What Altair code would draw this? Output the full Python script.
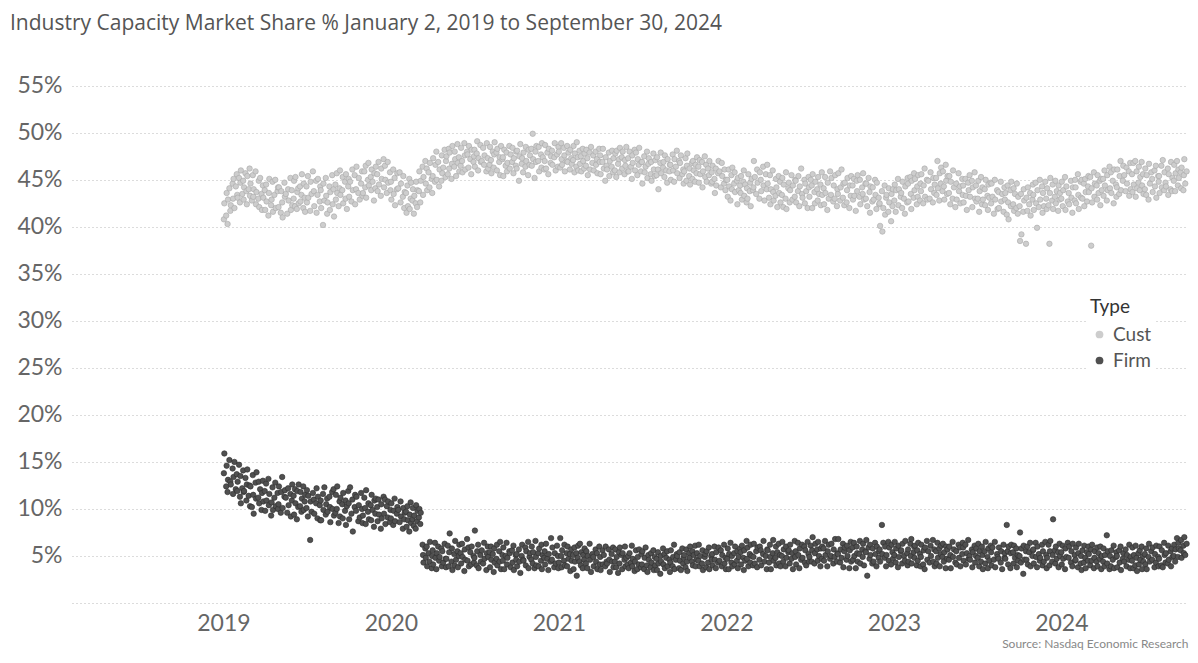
import altair as alt
import numpy as np
import pandas as pd

TITLE = "Industry Capacity Market Share % January 2, 2019 to September 30, 2024"
SOURCE = "Source: Nasdaq Economic Research"
TYPES = ["Cust", "Firm"]
YEAR_TICKS = [2019, 2020, 2021, 2022, 2023, 2024]
Y_TICKS = [0, 5, 10, 15, 20, 25, 30, 35, 40, 45, 50, 55]

# market share (%), 16 readings per month (one row per month)
CUST_2019 = [
    [40.8, 42.5, 41.2, 43.6, 40.3, 42.9, 44.1, 41.7, 42.3, 44.6, 43.0, 45.1, 42.0, 44.3, 45.6, 43.4],
    [43.1, 45.2, 42.6, 44.7, 46.0, 43.5, 44.9, 42.9, 44.2, 45.7, 43.8, 42.4, 45.4, 44.0, 46.2, 43.3],
    [44.6, 42.8, 45.5, 43.2, 44.0, 45.9, 42.4, 43.7, 43.0, 44.9, 42.1, 45.2, 43.5, 41.8, 44.4, 43.1],
    [43.9, 41.8, 44.5, 42.7, 41.2, 43.6, 45.1, 42.3, 42.9, 44.8, 41.6, 43.4, 45.0, 42.0, 43.8, 44.2],
    [42.1, 44.2, 41.5, 43.8, 42.6, 41.0, 44.7, 43.2, 43.5, 41.4, 44.0, 42.8, 45.2, 41.8, 43.9, 42.3],
    [43.0, 44.9, 42.2, 45.3, 41.9, 43.7, 44.1, 42.5, 44.3, 42.7, 43.4, 45.6, 42.0, 44.6, 43.1, 41.6],
    [44.3, 42.6, 45.4, 43.1, 41.7, 44.8, 43.5, 45.9, 43.8, 42.2, 44.9, 41.5, 43.4, 45.1, 42.7, 44.3],
    [43.9, 42.0, 40.2, 44.6, 42.8, 45.2, 43.3, 41.4, 42.6, 44.3, 41.8, 43.7, 45.5, 42.4, 44.0, 41.1],
    [44.5, 42.9, 45.7, 43.6, 42.2, 44.1, 46.0, 43.4, 43.9, 45.3, 42.5, 44.8, 43.0, 45.6, 41.9, 44.3],
    [45.1, 43.2, 44.8, 42.7, 46.1, 43.9, 45.5, 42.4, 44.0, 46.4, 43.6, 45.2, 42.9, 44.6, 45.9, 43.3],
    [43.6, 45.9, 44.2, 46.5, 43.1, 45.0, 46.8, 44.4, 45.3, 43.9, 46.1, 44.8, 42.8, 45.7, 44.1, 46.4],
    [45.6, 43.8, 46.9, 44.5, 43.3, 46.2, 45.1, 47.2, 44.2, 46.5, 45.0, 43.6, 46.9, 44.7, 45.8, 43.9],
]
CUST_2020 = [
    [44.8, 42.9, 46.1, 43.5, 45.2, 42.3, 44.0, 45.7, 44.1, 45.8, 42.6, 44.6, 43.2, 45.4, 42.0, 43.7],
    [43.6, 41.5, 44.4, 42.2, 45.1, 41.9, 43.0, 44.7, 42.8, 44.0, 41.4, 43.3, 42.5, 44.8, 42.1, 43.9],
    [43.8, 45.9, 42.6, 44.9, 46.4, 43.4, 45.3, 47.0, 44.6, 46.2, 43.9, 45.8, 44.2, 46.8, 45.1, 43.6],
    [45.4, 47.3, 44.8, 46.6, 48.0, 45.0, 46.9, 44.3, 46.1, 44.9, 47.6, 45.7, 46.3, 48.2, 45.3, 47.0],
    [47.5, 45.6, 48.3, 46.2, 47.9, 45.1, 46.7, 48.6, 46.4, 48.0, 47.2, 45.4, 48.8, 46.8, 47.4, 45.9],
    [46.5, 48.4, 47.0, 45.8, 48.9, 47.6, 46.1, 48.0, 47.7, 46.3, 48.6, 47.2, 45.6, 48.2, 46.9, 47.5],
    [48.2, 46.4, 47.8, 49.1, 46.0, 47.3, 48.7, 46.9, 47.0, 48.4, 46.6, 47.6, 45.9, 48.9, 47.3, 46.2],
    [46.6, 48.5, 47.1, 45.7, 48.0, 46.3, 47.7, 49.0, 47.9, 46.0, 48.3, 46.9, 47.4, 45.5, 48.6, 47.2],
    [47.4, 45.4, 48.2, 46.5, 47.9, 45.9, 46.8, 48.6, 46.2, 47.7, 46.9, 48.4, 45.7, 47.3, 46.5, 48.0],
    [46.2, 48.1, 44.9, 47.5, 48.8, 46.7, 47.3, 45.8, 47.9, 46.4, 48.5, 47.0, 45.5, 48.2, 46.6, 47.6],
    [48.3, 46.5, 49.9, 47.2, 45.2, 48.0, 46.9, 48.6, 47.0, 48.5, 45.9, 47.7, 46.3, 48.9, 47.4, 46.1],
    [47.0, 48.7, 46.2, 47.9, 45.6, 48.3, 46.8, 47.5, 48.1, 46.6, 47.4, 48.9, 46.0, 47.7, 46.4, 48.5],
]
CUST_2021 = [
    [48.0, 46.3, 48.9, 47.2, 46.6, 48.4, 47.6, 45.9, 47.0, 48.6, 46.9, 47.9, 46.1, 48.2, 47.3, 46.7],
    [47.1, 48.6, 45.8, 47.8, 46.4, 49.0, 47.4, 46.0, 48.1, 46.7, 47.5, 45.9, 48.3, 47.0, 46.2, 47.8],
    [46.5, 48.2, 47.3, 45.5, 47.9, 46.1, 48.5, 46.8, 47.6, 46.0, 48.0, 46.6, 47.2, 45.7, 48.3, 46.9],
    [47.6, 45.6, 46.9, 48.3, 46.2, 44.9, 47.4, 46.5, 46.1, 47.9, 45.4, 47.0, 46.4, 48.1, 45.8, 47.3],
    [46.0, 47.8, 45.3, 48.1, 46.7, 47.2, 45.8, 48.4, 47.4, 46.2, 48.0, 45.6, 47.1, 46.5, 48.5, 45.9],
    [47.3, 45.9, 48.0, 46.4, 45.1, 47.6, 46.8, 48.2, 46.0, 47.9, 45.5, 47.2, 46.6, 48.4, 45.9, 46.9],
    [46.9, 44.6, 47.5, 45.8, 46.4, 48.0, 45.2, 46.7, 47.3, 45.6, 46.9, 44.9, 47.8, 46.1, 45.4, 47.1],
    [45.5, 47.4, 46.1, 44.0, 46.8, 47.9, 45.7, 46.3, 46.9, 45.3, 47.6, 46.0, 44.7, 47.2, 45.9, 46.6],
    [46.6, 45.0, 47.7, 46.0, 44.8, 47.2, 46.4, 48.1, 45.7, 47.0, 45.2, 46.8, 47.6, 45.6, 46.1, 44.6],
    [45.9, 47.3, 44.9, 46.5, 47.8, 45.4, 46.2, 44.5, 46.8, 45.1, 47.0, 46.0, 44.8, 46.6, 45.7, 47.4],
    [46.4, 44.7, 47.1, 45.6, 46.9, 44.2, 45.9, 47.5, 45.3, 46.6, 44.8, 46.2, 45.5, 47.0, 44.6, 45.8],
    [44.8, 46.5, 45.1, 43.6, 46.2, 44.4, 45.7, 47.0, 45.9, 44.2, 46.8, 45.4, 44.6, 46.1, 43.9, 45.0],
]
CUST_2022 = [
    [45.0, 43.2, 46.1, 44.3, 42.8, 45.5, 44.0, 46.3, 44.6, 45.8, 43.7, 44.9, 42.4, 45.2, 43.9, 44.4],
    [43.6, 45.4, 42.9, 44.8, 46.0, 43.3, 44.5, 42.6, 44.1, 43.0, 45.6, 43.8, 44.7, 42.2, 45.1, 43.9],
    [44.2, 47.0, 45.3, 43.5, 46.1, 44.7, 43.0, 45.8, 45.0, 43.8, 46.4, 44.4, 42.8, 45.6, 44.0, 46.6],
    [44.6, 43.1, 45.5, 42.4, 44.0, 46.0, 43.7, 42.8, 43.3, 45.1, 44.2, 42.1, 45.4, 43.6, 44.8, 42.6],
    [43.4, 45.2, 42.1, 44.5, 43.0, 45.8, 41.9, 44.1, 44.7, 42.6, 43.9, 45.5, 42.9, 44.4, 43.2, 45.0],
    [44.9, 42.6, 43.8, 45.4, 42.2, 44.3, 46.2, 43.5, 43.1, 45.0, 42.5, 44.6, 43.8, 42.0, 45.3, 44.2],
    [43.2, 45.0, 44.4, 42.0, 45.6, 43.7, 42.5, 44.8, 44.0, 42.8, 45.3, 43.5, 44.5, 42.3, 45.8, 43.4],
    [44.1, 42.4, 45.3, 43.6, 41.8, 44.7, 43.0, 45.9, 43.4, 45.2, 42.7, 44.4, 43.0, 45.5, 42.2, 44.0],
    [43.5, 45.7, 42.8, 44.2, 46.1, 43.1, 44.6, 42.3, 44.7, 42.6, 43.9, 45.2, 42.0, 44.4, 43.3, 45.4],
    [44.4, 42.9, 45.1, 43.3, 41.7, 44.9, 43.8, 45.5, 43.2, 45.0, 42.4, 44.2, 43.5, 45.7, 42.9, 44.6],
    [43.0, 44.6, 42.2, 45.2, 43.7, 41.5, 44.3, 42.7, 44.2, 42.9, 45.0, 43.4, 41.9, 44.7, 43.1, 42.4],
    [42.5, 40.1, 43.8, 39.5, 42.0, 44.4, 41.3, 43.1, 43.4, 41.6, 44.1, 42.6, 40.6, 43.5, 42.2, 44.0],
]
CUST_2023 = [
    [42.8, 44.5, 41.6, 43.9, 45.1, 42.3, 44.0, 43.2, 43.6, 42.0, 44.8, 43.0, 41.4, 44.3, 42.6, 45.2],
    [44.6, 42.7, 45.3, 43.5, 41.9, 44.9, 43.1, 45.7, 43.9, 45.1, 42.4, 44.3, 43.2, 45.5, 42.8, 44.6],
    [43.8, 45.6, 42.5, 44.4, 46.2, 43.2, 45.0, 42.9, 44.9, 43.0, 45.8, 44.0, 42.6, 45.2, 43.6, 44.5],
    [45.2, 43.4, 47.0, 44.1, 42.8, 45.7, 44.6, 46.3, 43.8, 45.9, 44.3, 42.9, 46.6, 44.9, 43.5, 45.4],
    [43.6, 45.4, 42.4, 44.8, 43.0, 46.0, 44.2, 42.1, 44.6, 42.9, 45.7, 43.8, 44.3, 42.5, 45.1, 43.4],
    [44.4, 42.6, 45.1, 43.3, 41.8, 44.7, 43.9, 45.5, 43.2, 44.9, 42.1, 44.2, 45.8, 43.0, 44.4, 42.7],
    [43.0, 44.9, 41.6, 43.8, 45.3, 42.4, 44.2, 42.9, 44.0, 42.3, 45.0, 43.3, 41.8, 44.5, 43.1, 44.7],
    [42.5, 44.6, 43.2, 41.4, 45.0, 42.9, 43.9, 41.9, 43.7, 42.0, 44.8, 42.7, 43.5, 41.6, 44.2, 42.9],
    [43.6, 41.3, 44.4, 42.6, 40.8, 43.9, 42.2, 44.8, 42.4, 44.1, 41.7, 43.5, 42.0, 44.6, 41.4, 43.2],
    [42.2, 38.5, 43.5, 39.2, 41.6, 44.0, 42.8, 38.2, 43.1, 41.7, 44.2, 42.4, 43.6, 41.2, 42.9, 44.5],
    [43.4, 41.8, 44.7, 42.5, 39.9, 43.9, 42.1, 45.0, 42.9, 44.3, 41.5, 43.6, 42.2, 44.8, 43.0, 41.9],
    [44.1, 42.3, 38.2, 43.6, 45.2, 42.8, 44.5, 41.9, 43.2, 44.9, 42.5, 43.8, 41.7, 44.4, 42.9, 43.6],
]
CUST_2024 = [
    [43.0, 44.8, 42.2, 43.9, 45.3, 41.8, 44.3, 42.7, 43.6, 42.4, 44.9, 43.1, 41.5, 44.2, 42.8, 45.0],
    [44.2, 42.5, 45.6, 43.4, 41.9, 44.8, 43.1, 45.0, 43.0, 44.6, 42.2, 45.1, 43.7, 42.7, 44.3, 45.4],
    [43.7, 45.3, 38.0, 44.1, 42.6, 45.8, 43.2, 44.6, 44.4, 42.9, 45.5, 43.6, 44.9, 42.3, 45.1, 43.9],
    [45.1, 43.3, 46.0, 44.4, 42.8, 45.5, 43.9, 46.4, 44.1, 45.8, 43.6, 44.9, 42.5, 46.1, 44.5, 43.2],
    [44.2, 46.1, 43.5, 45.4, 47.0, 43.9, 44.9, 46.5, 45.5, 43.8, 46.3, 44.6, 45.9, 43.3, 46.8, 44.0],
    [45.6, 43.7, 46.8, 44.5, 47.0, 43.2, 45.9, 44.1, 44.7, 46.4, 43.9, 45.3, 46.9, 44.4, 45.6, 43.5],
    [44.0, 46.2, 43.4, 45.5, 42.9, 46.7, 44.6, 45.8, 45.1, 43.7, 46.0, 44.3, 46.5, 43.1, 45.4, 44.8],
    [45.4, 43.6, 46.5, 44.2, 47.1, 43.9, 45.8, 44.7, 44.3, 46.2, 43.4, 45.6, 44.0, 46.9, 43.8, 45.2],
    [44.9, 46.6, 43.8, 45.7, 47.0, 44.4, 46.1, 45.2, 45.8, 44.1, 46.3, 43.9, 45.5, 47.2, 44.6, 45.9],
]

FIRM_2019 = [
    [13.8, 15.9, 12.4, 14.6, 11.8, 13.1, 15.2, 12.9, 12.6, 14.3, 11.6, 13.4, 15.0, 12.1, 13.7, 11.9],
    [12.9, 14.7, 11.3, 13.5, 10.6, 12.2, 14.1, 11.8, 11.9, 13.3, 10.9, 12.6, 14.2, 11.4, 12.5, 10.3],
    [12.4, 10.2, 13.6, 11.5, 9.5, 12.8, 11.1, 13.9, 11.2, 12.9, 10.6, 12.1, 9.9, 11.7, 13.0, 10.8],
    [11.9, 9.8, 12.7, 10.9, 13.2, 10.4, 11.6, 9.3, 10.7, 12.3, 9.9, 11.2, 12.8, 10.3, 11.7, 10.0],
    [10.5, 12.4, 9.6, 11.8, 13.4, 10.1, 11.3, 12.0, 11.2, 9.6, 12.2, 10.4, 11.6, 9.2, 10.9, 12.6],
    [11.4, 9.4, 12.1, 10.6, 8.9, 11.9, 10.2, 12.6, 10.3, 11.8, 9.7, 11.1, 12.4, 9.9, 10.8, 11.5],
    [10.1, 12.0, 9.2, 11.4, 6.7, 10.8, 9.7, 11.7, 11.0, 9.5, 10.6, 12.2, 9.0, 11.3, 10.4, 8.8],
    [10.9, 8.8, 11.6, 9.9, 12.3, 9.4, 10.5, 11.1, 9.7, 11.3, 10.2, 8.6, 11.8, 10.0, 12.1, 9.3],
    [9.6, 11.5, 10.0, 12.4, 8.5, 10.8, 9.2, 11.2, 10.5, 9.0, 11.7, 9.8, 10.9, 8.3, 10.3, 11.9],
    [10.6, 8.9, 12.3, 9.5, 11.0, 7.6, 10.2, 11.5, 9.8, 11.3, 8.7, 10.4, 9.1, 11.7, 10.0, 8.5],
    [9.3, 11.2, 10.1, 8.4, 12.0, 9.7, 10.6, 8.9, 10.4, 8.8, 11.5, 9.9, 8.1, 10.9, 9.5, 11.1],
    [10.2, 8.7, 11.0, 9.4, 7.9, 10.5, 9.0, 11.3, 9.5, 11.0, 8.4, 10.3, 9.1, 10.8, 8.6, 9.9],
]
FIRM_2020 = [
    [9.0, 10.6, 8.3, 9.8, 11.1, 8.7, 9.5, 10.2, 9.9, 8.6, 10.8, 9.2, 7.9, 10.1, 8.9, 9.6],
    [9.7, 8.1, 10.3, 8.8, 7.6, 9.4, 10.7, 8.5, 8.9, 10.1, 8.2, 9.3, 7.9, 10.4, 8.7, 9.8],
    [9.1, 10.0, 8.4, 9.6, 6.2, 5.1, 4.3, 5.8, 4.8, 6.0, 3.9, 5.3, 4.4, 6.5, 3.7, 5.0],
    [5.6, 4.1, 6.4, 4.8, 3.6, 5.3, 6.0, 4.5, 4.9, 5.8, 3.9, 5.5, 4.3, 6.3, 4.7, 3.8],
    [4.7, 6.1, 3.9, 5.4, 7.4, 4.4, 5.8, 3.5, 5.2, 4.0, 6.6, 4.6, 5.5, 3.8, 5.0, 6.2],
    [5.3, 4.2, 6.3, 4.9, 3.4, 5.7, 4.6, 6.8, 4.5, 5.9, 3.9, 5.4, 4.1, 6.0, 5.0, 4.3],
    [4.8, 7.7, 4.0, 5.5, 6.2, 3.7, 5.1, 4.4, 5.6, 4.2, 6.4, 4.7, 3.5, 5.3, 6.0, 4.9],
    [5.4, 3.8, 6.0, 4.6, 5.2, 3.3, 5.8, 4.3, 4.7, 6.2, 4.0, 5.5, 4.4, 6.5, 3.6, 5.1],
    [4.5, 5.9, 3.6, 5.0, 6.4, 4.1, 4.8, 5.5, 5.3, 3.8, 5.6, 4.3, 6.1, 3.5, 5.1, 4.6],
    [5.2, 3.9, 5.7, 4.4, 3.2, 5.0, 6.2, 4.6, 4.5, 5.9, 4.0, 5.5, 6.5, 3.7, 4.9, 5.3],
    [4.6, 6.0, 4.2, 5.4, 3.7, 6.6, 4.9, 4.0, 5.3, 3.9, 5.8, 4.5, 6.2, 3.6, 5.1, 4.8],
    [5.5, 4.1, 6.3, 4.7, 3.5, 5.2, 4.4, 6.9, 4.6, 5.9, 3.8, 5.3, 4.2, 6.1, 5.0, 3.7],
]
FIRM_2021 = [
    [4.3, 6.9, 5.0, 3.8, 5.6, 4.5, 6.2, 4.0, 5.3, 3.9, 6.0, 4.7, 5.2, 3.4, 5.7, 4.5],
    [5.1, 3.6, 5.9, 4.4, 5.3, 2.9, 4.8, 6.1, 4.4, 6.3, 4.0, 5.4, 3.7, 5.1, 4.6, 5.8],
    [4.2, 5.5, 3.7, 5.0, 6.3, 4.6, 3.3, 5.2, 4.9, 3.9, 5.7, 4.4, 5.3, 3.6, 6.0, 4.1],
    [4.9, 3.5, 5.6, 4.1, 5.1, 3.9, 6.0, 4.4, 4.2, 5.7, 4.6, 3.3, 5.2, 4.4, 5.9, 3.8],
    [4.4, 5.7, 3.8, 4.9, 3.2, 5.4, 4.2, 5.9, 5.1, 3.6, 5.3, 4.6, 6.0, 3.9, 4.8, 4.1],
    [5.0, 3.7, 5.3, 4.3, 6.1, 3.9, 4.7, 3.4, 4.4, 5.6, 3.6, 4.9, 4.1, 5.7, 3.8, 5.2],
    [4.1, 5.5, 3.6, 4.8, 5.9, 4.0, 3.3, 5.1, 4.6, 3.8, 5.3, 4.3, 5.6, 3.5, 4.9, 4.0],
    [4.7, 3.5, 5.4, 4.2, 3.1, 5.0, 4.4, 5.8, 4.1, 5.2, 3.7, 4.8, 5.5, 3.9, 4.6, 3.3],
    [4.3, 5.6, 3.9, 4.9, 6.2, 3.6, 4.6, 5.2, 5.0, 3.7, 5.4, 4.5, 3.5, 5.8, 4.2, 4.8],
    [5.1, 3.8, 5.7, 4.4, 3.4, 5.3, 4.8, 6.0, 4.4, 5.5, 4.0, 5.1, 6.1, 3.9, 4.6, 5.3],
    [4.5, 6.2, 3.9, 5.0, 4.2, 5.6, 3.5, 4.9, 5.2, 3.8, 5.5, 4.3, 5.9, 3.6, 5.0, 4.6],
    [5.2, 4.0, 6.0, 4.6, 3.7, 5.4, 4.3, 5.9, 4.5, 5.6, 3.9, 5.1, 6.2, 4.2, 4.8, 3.6],
]
FIRM_2022 = [
    [4.7, 5.8, 3.6, 5.2, 6.4, 4.3, 5.0, 3.9, 5.3, 4.1, 6.0, 4.5, 5.5, 3.7, 4.9, 5.8],
    [5.4, 4.1, 6.1, 4.8, 3.5, 5.6, 4.5, 6.6, 4.7, 5.9, 3.9, 5.2, 4.3, 6.2, 5.0, 4.0],
    [4.9, 6.3, 4.2, 5.5, 3.8, 5.9, 4.6, 6.0, 5.6, 4.0, 5.2, 6.6, 4.4, 5.0, 3.6, 5.7],
    [5.6, 4.3, 6.2, 4.9, 3.6, 5.3, 6.7, 4.5, 4.8, 6.0, 4.0, 5.4, 6.3, 4.2, 5.1, 3.9],
    [5.0, 6.5, 4.4, 5.7, 3.9, 6.0, 4.8, 5.4, 5.6, 4.2, 6.2, 4.7, 5.3, 3.6, 6.6, 4.9],
    [5.5, 4.1, 6.4, 5.1, 3.7, 5.8, 4.6, 6.2, 4.8, 6.0, 4.3, 5.6, 4.0, 6.5, 5.2, 4.4],
    [4.9, 6.1, 4.4, 5.6, 7.0, 4.2, 5.3, 6.3, 5.7, 4.5, 6.5, 5.0, 3.9, 5.8, 4.7, 6.0],
    [5.8, 4.5, 6.6, 5.1, 3.9, 5.5, 6.2, 4.7, 5.0, 6.3, 4.2, 5.7, 4.9, 6.8, 4.4, 5.3],
    [5.2, 6.8, 4.3, 5.7, 4.8, 6.3, 3.8, 5.5, 5.9, 4.6, 6.1, 5.0, 3.7, 5.6, 6.5, 4.4],
    [5.9, 4.6, 6.4, 5.0, 3.7, 6.0, 5.3, 4.4, 5.2, 6.6, 4.2, 5.7, 4.9, 6.3, 4.0, 5.5],
    [5.4, 6.7, 2.9, 5.9, 4.7, 6.2, 5.1, 4.2, 5.8, 4.4, 6.4, 5.2, 3.9, 6.0, 4.8, 5.5],
    [5.7, 4.4, 8.3, 5.2, 6.4, 4.8, 6.0, 3.9, 5.1, 6.5, 4.5, 5.9, 4.1, 6.2, 5.4, 4.7],
]
FIRM_2023 = [
    [5.1, 6.5, 4.3, 5.8, 3.8, 6.1, 4.9, 5.5, 5.6, 4.2, 6.3, 5.0, 4.5, 6.6, 5.3, 4.0],
    [5.7, 4.4, 6.3, 5.0, 6.8, 4.2, 5.4, 6.0, 4.8, 6.1, 4.0, 5.6, 4.5, 6.4, 5.2, 3.9],
    [4.9, 6.2, 4.1, 5.6, 3.6, 5.9, 6.6, 4.6, 5.5, 4.3, 6.1, 5.0, 6.7, 4.4, 5.7, 3.9],
    [5.5, 4.2, 6.4, 4.8, 5.8, 3.9, 5.2, 6.1, 4.9, 6.3, 4.4, 5.4, 3.7, 6.0, 4.7, 5.7],
    [4.6, 6.0, 5.1, 3.7, 6.5, 4.9, 5.7, 4.3, 5.5, 4.1, 6.2, 4.8, 5.9, 3.9, 5.2, 6.4],
    [5.9, 4.5, 6.2, 4.1, 5.3, 6.7, 4.7, 5.0, 4.6, 5.7, 3.8, 5.4, 6.1, 4.3, 5.0, 5.8],
    [4.8, 6.3, 3.9, 5.5, 4.4, 6.0, 5.1, 3.6, 5.5, 4.2, 6.5, 4.9, 3.7, 5.8, 4.5, 6.1],
    [5.4, 4.0, 5.9, 4.6, 6.5, 3.8, 5.2, 4.9, 4.7, 5.9, 4.3, 5.5, 3.6, 6.2, 4.8, 5.3],
    [4.7, 8.3, 5.5, 4.1, 6.0, 3.7, 5.3, 6.2, 5.4, 4.2, 6.1, 4.8, 5.8, 3.8, 5.1, 4.5],
    [5.0, 7.5, 4.3, 5.8, 3.1, 6.1, 4.6, 5.5, 4.6, 6.0, 4.1, 5.4, 6.4, 3.9, 5.0, 5.6],
    [5.7, 4.2, 6.4, 4.9, 3.8, 6.0, 5.2, 4.5, 4.8, 6.2, 4.0, 5.5, 4.4, 6.5, 5.1, 3.7],
    [4.8, 6.2, 4.0, 5.5, 6.6, 4.4, 5.1, 8.9, 5.6, 4.2, 6.0, 4.7, 5.4, 3.8, 6.3, 5.0],
]
FIRM_2024 = [
    [5.4, 4.1, 6.1, 4.7, 3.6, 5.8, 4.9, 6.4, 4.8, 6.0, 4.3, 5.5, 3.9, 6.3, 5.1, 4.5],
    [4.6, 5.9, 3.8, 5.3, 6.3, 4.2, 5.0, 3.5, 5.6, 4.3, 6.1, 4.8, 3.7, 5.4, 4.5, 6.0],
    [5.2, 4.0, 5.7, 4.5, 6.2, 3.7, 4.8, 5.5, 4.4, 5.9, 3.9, 5.3, 4.7, 6.0, 3.6, 5.0],
    [4.4, 5.8, 3.9, 5.1, 7.2, 4.2, 5.5, 3.6, 5.0, 3.9, 5.6, 4.6, 6.1, 3.7, 4.9, 5.4],
    [5.0, 3.8, 5.6, 4.3, 6.0, 3.5, 4.7, 5.3, 4.4, 5.7, 3.9, 5.1, 4.6, 6.2, 3.7, 4.9],
    [4.5, 5.9, 3.7, 5.1, 4.0, 6.1, 4.8, 3.4, 5.3, 4.1, 5.6, 4.6, 6.0, 3.6, 5.0, 4.4],
    [5.2, 4.1, 5.8, 3.6, 4.9, 6.3, 4.4, 5.5, 4.6, 5.9, 3.8, 5.2, 4.3, 6.1, 4.9, 3.9],
    [4.7, 6.0, 4.0, 5.6, 3.8, 6.4, 5.1, 4.3, 5.3, 4.2, 6.1, 4.6, 5.5, 3.9, 5.8, 4.9],
    [5.0, 6.2, 4.4, 5.7, 6.9, 4.9, 6.4, 5.8, 5.6, 6.7, 4.8, 6.1, 5.3, 7.0, 5.1, 6.3],
]

CUST = {2019: CUST_2019, 2020: CUST_2020, 2021: CUST_2021,
        2022: CUST_2022, 2023: CUST_2023, 2024: CUST_2024}
FIRM = {2019: FIRM_2019, 2020: FIRM_2020, 2021: FIRM_2021,
        2022: FIRM_2022, 2023: FIRM_2023, 2024: FIRM_2024}

START = pd.Timestamp("2019-01-02")
END = pd.Timestamp("2024-09-30")


def month_days(year, month, n):
    p = pd.Period(year=year, month=month, freq="M")
    days = pd.bdate_range(max(p.start_time, START), min(p.end_time.normalize(), END))
    idx = np.linspace(0, len(days) - 1, n).round().astype(int)
    return days[idx]


rows = []
for name, table in (("Cust", CUST), ("Firm", FIRM)):
    for year, months in table.items():
        for m, vals in enumerate(months, start=1):
            for d, v in zip(month_days(year, m, len(vals)), vals):
                rows.append({"date": d.strftime("%Y-%m-%dT00:00:00"),
                             "share": v / 100.0, "Type": name})
df = pd.DataFrame(rows)

FONT = "Lato"

points = alt.Chart(df).mark_circle(size=30, opacity=1, strokeWidth=0.6).encode(
    x=alt.X(
        "date:T",
        scale=alt.Scale(domain=[alt.DateTime(year=2018, month=2, date=5),
                                alt.DateTime(year=2024, month=10, date=3)]),
        axis=alt.Axis(
            values=[alt.DateTime(year=y, month=1, date=1) for y in YEAR_TICKS],
            format="%Y", grid=False, domain=False, ticks=False,
            labelFont=FONT, labelFontSize=23, labelColor="#666666",
            labelPadding=9, labelFlush=False,
            title=SOURCE, titleAnchor="end", titleAlign="right",
            titleFont=FONT, titleFontSize=12, titleFontWeight="normal",
            titleColor="#888888", titlePadding=3,
        ),
    ),
    y=alt.Y(
        "share:Q",
        scale=alt.Scale(domain=[0, 0.57], nice=False, zero=True),
        axis=alt.Axis(
            values=[t / 100 for t in Y_TICKS], format=".0%",
            labelExpr="datum.value == 0 ? '' : datum.label",
            grid=True, gridDash=[1, 3], gridColor="#b8b8b8", gridWidth=1,
            domain=False, ticks=False,
            labelFont=FONT, labelFontSize=23, labelColor="#666666",
            labelPadding=10, title=None,
        ),
    ),
    color=alt.Color(
        "Type:N",
        scale=alt.Scale(domain=TYPES, range=["#cdcdcd", "#505050"]),
        legend=alt.Legend(
            orient="none", legendX=1016, legendY=229,
            title="Type", titleFont=FONT, titleFontSize=19,
            titleFontWeight="normal", titleColor="#333333", titlePadding=8,
            labelFont=FONT, labelFontSize=19, labelColor="#555555",
            symbolType="circle", symbolSize=60, symbolStrokeWidth=0,
            rowPadding=6, fillColor="white", padding=2,
        ),
    ),
    stroke=alt.Stroke(
        "Type:N",
        scale=alt.Scale(domain=TYPES, range=["#a8a8a8", "#2e2e2e"]),
        legend=None,
    ),
)

chart = points.properties(
    width=1116,
    height=536,
    padding={"left": 64, "top": 59, "right": 2, "bottom": 52},
    autosize=alt.AutoSizeParams(type="none"),
    title=alt.TitleParams(
        TITLE, anchor="start", frame="group", dx=-62, offset=33,
        font="Open Sans", fontSize=21, fontWeight="normal", color="#555555",
    ),
).configure_view(stroke=None)

chart.save("out.html", embed_options={"renderer": "svg", "actions": False})
